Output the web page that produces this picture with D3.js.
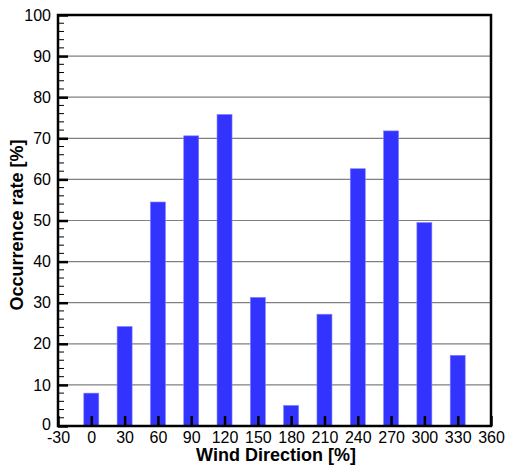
<!DOCTYPE html>
<html>
<head>
<meta charset="utf-8">
<script src="https://cdn.jsdelivr.net/npm/d3@7"></script>
<style>
  body { margin: 0; background: #fff; }
  text { font-family: "Liberation Sans", Arial, sans-serif; }
</style>
</head>
<body>
<svg id="chart"></svg>
<script>
// wind direction (deg) and occurrence rate (%)
const directions = [0, 30, 60, 90, 120, 150, 180, 210, 240, 270, 300, 330];
const rates = [8.0, 24.2, 54.5, 70.6, 75.8, 31.3, 5.0, 27.2, 62.6, 71.8, 49.5, 17.2];
const xTicks = [-30, 0, 30, 60, 90, 120, 150, 180, 210, 240, 270, 300, 330, 360];
const yTicks = [0, 10, 20, 30, 40, 50, 60, 70, 80, 90, 100];

const W = 505, H = 466;
const margin = {top: 15, right: 14, bottom: 40, left: 58};
const width = W - margin.left - margin.right;
const height = H - margin.top - margin.bottom;

const svg = d3.select("#chart").attr("width", W).attr("height", H);
const g = svg.append("g").attr("transform", "translate(" + margin.left + "," + margin.top + ")");

const x = d3.scaleLinear().domain([-30, 360]).range([0, width]);
const y = d3.scaleLinear().domain([0, 100]).range([height, 0]);

// grid lines
g.append("g")
  .selectAll("line")
  .data(yTicks.filter(d => d > 0 && d < 100))
  .enter().append("line")
  .attr("x1", 0).attr("x2", width)
  .attr("y1", d => y(d)).attr("y2", d => y(d))
  .attr("stroke", "#808080").attr("stroke-width", 1.2);

// bars
const barW = 15;
g.selectAll(".bar")
  .data(directions)
  .enter().append("rect")
  .attr("class", "bar")
  .attr("x", (d) => x(d) - barW / 2)
  .attr("width", barW)
  .attr("y", (d, i) => y(rates[i]))
  .attr("height", (d, i) => height - y(rates[i]))
  .attr("fill", "#3333ff")
  .attr("stroke", "#8080ff")
  .attr("stroke-width", 0.6);

// minor y ticks
g.append("g")
  .selectAll("line")
  .data(d3.range(0, 101, 2).filter(d => d % 10 !== 0))
  .enter().append("line")
  .attr("x1", 0).attr("x2", 6)
  .attr("y1", d => y(d)).attr("y2", d => y(d))
  .attr("stroke", "#000").attr("stroke-width", 1);

// y axis
const yAxis = g.append("g")
  .call(d3.axisLeft(y).tickValues(yTicks).tickFormat(d => String(d))
    .tickSizeInner(-10).tickSizeOuter(0).tickPadding(7));
yAxis.select(".domain").remove();
yAxis.selectAll(".tick line").attr("stroke-width", 2.5);
yAxis.selectAll("text").attr("font-size", 16).attr("fill", "#000")
  .attr("font-family", "Liberation Sans, Arial, sans-serif");
// lift the "0" label a touch so it clears "-30"
yAxis.selectAll("text").filter(d => d === 0).attr("dy", "0.2em");

// x axis
const xAxis = g.append("g")
  .attr("transform", "translate(0," + height + ")")
  .call(d3.axisBottom(x).tickValues(xTicks).tickFormat(d => String(d))
    .tickSizeInner(-10).tickSizeOuter(0).tickPadding(6));
xAxis.select(".domain").remove();
xAxis.selectAll(".tick line").attr("stroke-width", 2.5);
xAxis.selectAll("text").attr("font-size", 16).attr("fill", "#000")
  .attr("font-family", "Liberation Sans, Arial, sans-serif");

// frame
g.append("rect")
  .attr("x", 0).attr("y", 0).attr("width", width).attr("height", height)
  .attr("fill", "none").attr("stroke", "#000").attr("stroke-width", 2.5);

// axis titles
svg.append("text")
  .attr("x", 276).attr("y", 461)
  .attr("text-anchor", "middle")
  .attr("font-size", 18).attr("font-weight", "bold")
  .text("Wind Direction [%]");

svg.append("text")
  .attr("transform", "translate(23,225) rotate(-90)")
  .attr("text-anchor", "middle")
  .attr("font-size", 18).attr("font-weight", "bold")
  .text("Occurrence rate [%]");
</script>
</body>
</html>
